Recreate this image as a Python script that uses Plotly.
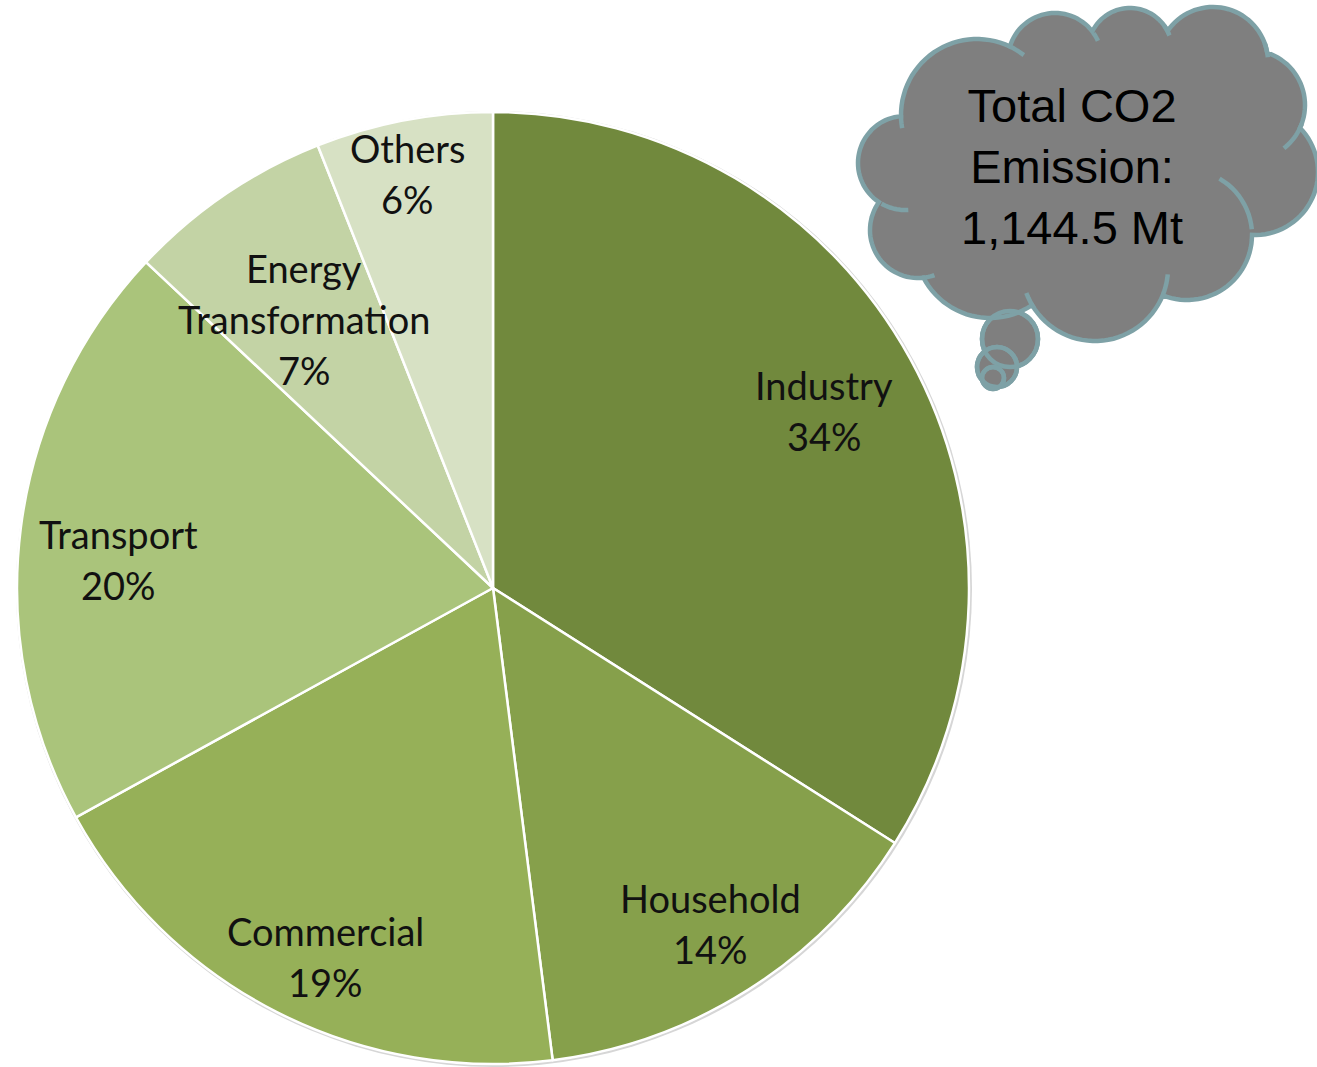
import math
import plotly.graph_objects as go

# ---------------- data ----------------
sectors = ["Industry", "Household", "Commercial", "Transport", "Energy Transformation", "Others"]
shares = [34, 14, 19, 20, 7, 6]
label_text = ["Industry", "Household", "Commercial", "Transport", "Energy<br>Transformation", "Others"]
total_text = "Total CO2<br>Emission:<br>1,144.5 Mt"

# ---------------- style ----------------
colors = ["#71893D", "#86A04B", "#96B058", "#AAC47B", "#C3D3A5", "#D7E1C4"]
label_radius = [0.79, 0.84, 0.85, 0.79, 0.69, 0.89]
label_angle_shift = [0.6, -0.5, -2.6, -2.9, -0.9, -0.9]  # degrees
W, H = 1317, 1067
CX, CY, R = 493, 588, 476
LINE_GAP = 51
CLOUD_FILL = "#7F7F7F"
CLOUD_LINE = "#7EA1A6"
LABEL_FONT = dict(family="Lato, Carlito, sans-serif", size=38, color="#111111")

fig = go.Figure()

fig.add_trace(go.Pie(
    labels=sectors, values=shares, sort=False, direction="clockwise", rotation=0,
    marker=dict(colors=colors, line=dict(color="white", width=2.5)),
    textinfo="none", hoverinfo="label+percent", showlegend=False,
    domain=dict(x=[(CX - R) / W, (CX + R) / W], y=[(H - CY - R) / H, (H - CY + R) / H]),
))

fig.update_xaxes(range=[0, W], visible=False, fixedrange=True)
fig.update_yaxes(range=[H, 0], visible=False, fixedrange=True)

shapes = []
# soft shadow under the pie
shapes.append(dict(type="circle", xref="x", yref="y", x0=CX - R - 1, x1=CX + R + 3,
                   y0=CY - R - 1, y1=CY + R + 3, fillcolor="#D6D6D6",
                   line=dict(width=0), layer="below"))

# slice labels, placed from the data angles
total = sum(shares)
cum = 0
annotations = []
for name, val, txt, f, da in zip(sectors, shares, label_text, label_radius, label_angle_shift):
    mid = (cum + val / 2) / total * 2 * math.pi + math.radians(da)
    cum += val
    pct = round(val / total * 100)
    x = CX + f * R * math.sin(mid)
    y = CY - f * R * math.cos(mid)
    lines = txt.split("<br>") + [f"{pct}%"]
    n = len(lines)
    for k, ln in enumerate(lines):
        annotations.append(dict(
            x=x, y=y + (k - (n - 1) / 2) * LINE_GAP, xref="x", yref="y", text=ln,
            showarrow=False, font=LABEL_FONT, xanchor="center", yanchor="middle",
        ))

# ---------------- cloud callout ----------------
lobes = [  # (cx, cy, r) in clockwise order
    (977, 115, 76), (1055, 60, 47), (1130, 50, 42), (1213, 62, 55),
    (1250, 105, 55), (1255, 172, 63), (1187, 235, 65), (1095, 268, 73),
    (990, 243, 75), (918, 230, 48), (905, 163, 47),
]
CLOUD_C = (1085, 170)
creases = [  # (lobe index, start deg, end deg)
    (0, -66, -52), (1, -35, -24), (2, -35, -20), (3, -20, -5),
    (4, 20, 52), (6, -60, -5), (7, 5, 21), (7, 147, 160),
    (9, 70, 85), (10, 86, 120), (0, 170, 180),
]
bubbles = [(1010, 339, 28), (997, 367, 20), (993, 378, 11)]


def circle_intersection(c1, c2):
    x1, y1, r1 = c1
    x2, y2, r2 = c2
    d = math.hypot(x2 - x1, y2 - y1)
    a = (r1 ** 2 - r2 ** 2 + d ** 2) / (2 * d)
    h = math.sqrt(max(r1 ** 2 - a ** 2, 0))
    xm = x1 + a * (x2 - x1) / d
    ym = y1 + a * (y2 - y1) / d
    p1 = (xm + h * (y2 - y1) / d, ym - h * (x2 - x1) / d)
    p2 = (xm - h * (y2 - y1) / d, ym + h * (x2 - x1) / d)
    d1 = math.hypot(p1[0] - CLOUD_C[0], p1[1] - CLOUD_C[1])
    d2 = math.hypot(p2[0] - CLOUD_C[0], p2[1] - CLOUD_C[1])
    return p1 if d1 > d2 else p2


nL = len(lobes)
inter = [circle_intersection(lobes[i], lobes[(i + 1) % nL]) for i in range(nL)]
pts = []
for i in range(nL):
    x, y, r = lobes[i]
    ps = inter[i - 1]
    pe = inter[i]
    a0 = math.degrees(math.atan2(ps[1] - y, ps[0] - x))
    a1 = math.degrees(math.atan2(pe[1] - y, pe[0] - x))
    while a1 < a0:
        a1 += 360
    steps = max(int((a1 - a0) / 4), 2)
    for k in range(steps + 1):
        a = math.radians(a0 + (a1 - a0) * k / steps)
        pts.append((x + r * math.cos(a), y + r * math.sin(a)))
cloud_path = "M " + " L ".join(f"{px:.1f},{py:.1f}" for px, py in pts) + " Z"

# bubbles (fill first), then cloud, then bubble outlines on top
for (x, y, r) in bubbles:
    shapes.append(dict(type="circle", xref="x", yref="y", x0=x - r, x1=x + r, y0=y - r, y1=y + r,
                       fillcolor=CLOUD_FILL, line=dict(color=CLOUD_LINE, width=4.5), layer="above"))
shapes.append(dict(type="path", xref="x", yref="y", path=cloud_path, fillcolor=CLOUD_FILL,
                   line=dict(color=CLOUD_LINE, width=4.5), layer="above"))
for (i, a0, a1) in creases:
    x, y, r = lobes[i]
    cp = []
    n = 12
    for k in range(n + 1):
        a = math.radians(a0 + (a1 - a0) * k / n)
        cp.append((x + r * math.cos(a), y + r * math.sin(a)))
    path = "M " + " L ".join(f"{px:.1f},{py:.1f}" for px, py in cp)
    shapes.append(dict(type="path", xref="x", yref="y", path=path,
                       line=dict(color=CLOUD_LINE, width=4.5), layer="above"))
for (x, y, r) in bubbles:
    shapes.append(dict(type="circle", xref="x", yref="y", x0=x - r, x1=x + r, y0=y - r, y1=y + r,
                       fillcolor="rgba(0,0,0,0)", line=dict(color=CLOUD_LINE, width=4.5), layer="above"))

annotations.append(dict(
    x=1072, y=166, xref="x", yref="y", text=total_text, showarrow=False,
    font=dict(family="Liberation Sans, Arial, sans-serif", size=47, color="#000000"),
    xanchor="center", yanchor="middle", align="center",
))

fig.update_layout(
    width=W, height=H, margin=dict(l=0, r=0, t=0, b=0),
    paper_bgcolor="white", plot_bgcolor="rgba(0,0,0,0)",
    shapes=shapes, annotations=annotations, showlegend=False,
)

fig.write_html("out.html")
